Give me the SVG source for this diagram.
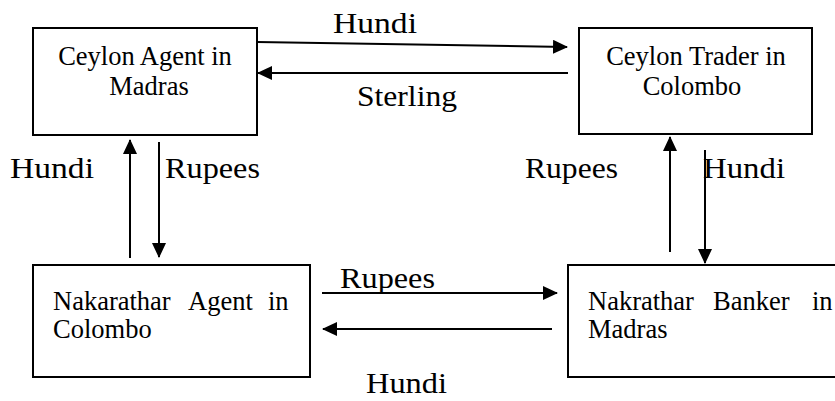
<svg xmlns="http://www.w3.org/2000/svg" width="835" height="401" viewBox="0 0 835 401">
<style>
.box{fill:#fff;stroke:#000;stroke-width:2}
.bt{font-family:"Liberation Serif",serif;font-size:26.5px;fill:#000}
.lb{font-family:"Liberation Serif",serif;font-size:29px;fill:#000}
.cn{stroke:#000;stroke-width:2;fill:none;marker-end:url(#ah)}
</style>
<defs>
<marker id="ah" markerUnits="userSpaceOnUse" markerWidth="15" markerHeight="14" viewBox="0 0 15 14" refX="14" refY="7" orient="auto">
<path d="M0,0 L15,7 L0,14 z" fill="#000"/>
</marker>
</defs>
<rect width="835" height="401" fill="#fff"/>
<g id="node-ceylon-agent">
<rect class="box" x="33" y="28" width="224" height="107"/>
<text class="bt" x="145" y="65" text-anchor="middle">Ceylon Agent in</text>
<text class="bt" x="149" y="95" text-anchor="middle">Madras</text>
</g>
<g id="node-ceylon-trader">
<rect class="box" x="579" y="28" width="233" height="106"/>
<text class="bt" x="696" y="65" text-anchor="middle">Ceylon Trader in</text>
<text class="bt" x="692" y="95" text-anchor="middle">Colombo</text>
</g>
<g id="node-nakarathar-agent">
<rect class="box" x="33" y="265" width="277" height="112"/>
<text class="bt" y="310"><tspan x="53">Nakarathar</tspan><tspan x="188">Agent</tspan><tspan x="268">in</tspan></text>
<text class="bt" x="53" y="338">Colombo</text>
</g>
<g id="node-nakrathar-banker">
<rect class="box" x="568" y="265" width="280" height="112"/>
<text class="bt" y="310"><tspan x="588">Nakrathar</tspan><tspan x="713">Banker</tspan><tspan x="812">in</tspan></text>
<text class="bt" x="588" y="338">Madras</text>
</g>
<g id="connectors">
<line class="cn" x1="257" y1="42" x2="567" y2="47"/>
<line class="cn" x1="568" y1="73" x2="258" y2="73"/>
<line class="cn" x1="130" y1="258" x2="130" y2="140"/>
<line class="cn" x1="159" y1="142" x2="159" y2="257"/>
<line class="cn" x1="670" y1="252" x2="670" y2="137"/>
<line class="cn" x1="705" y1="150" x2="705" y2="263"/>
<line class="cn" x1="322" y1="293" x2="557" y2="293"/>
<line class="cn" x1="552" y1="329" x2="323" y2="329"/>
</g>
<g id="labels">
<text class="lb" x="333" y="33" textLength="84" lengthAdjust="spacingAndGlyphs">Hundi</text>
<text class="lb" x="357" y="106" textLength="100" lengthAdjust="spacingAndGlyphs">Sterling</text>
<text class="lb" x="10" y="178" textLength="84" lengthAdjust="spacingAndGlyphs">Hundi</text>
<text class="lb" x="165" y="178" textLength="95" lengthAdjust="spacingAndGlyphs">Rupees</text>
<text class="lb" x="525" y="178" textLength="93" lengthAdjust="spacingAndGlyphs">Rupees</text>
<text class="lb" x="703" y="178" textLength="82" lengthAdjust="spacingAndGlyphs">Hundi</text>
<text class="lb" x="340" y="288" textLength="95" lengthAdjust="spacingAndGlyphs">Rupees</text>
<text class="lb" x="366" y="393" textLength="81" lengthAdjust="spacingAndGlyphs">Hundi</text>
</g>
</svg>
